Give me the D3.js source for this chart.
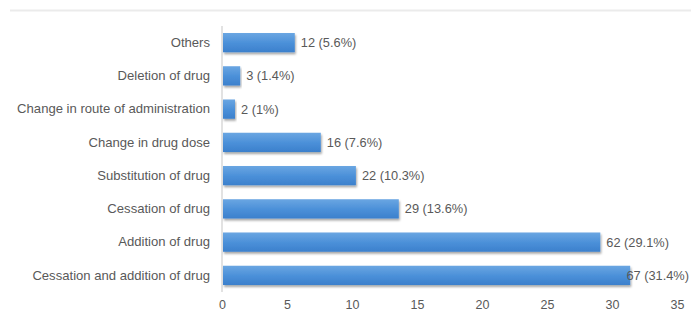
<!DOCTYPE html>
<html>
<head>
<meta charset="utf-8">
<script src="https://cdn.jsdelivr.net/npm/d3@7"></script>
<style>
  body { margin: 0; background: #fff; }
  text { font-family: "Liberation Sans", Arial, sans-serif; }
</style>
</head>
<body>
<svg id="chart" width="691" height="320"></svg>
<script>
// data, top to bottom
var categories = ["Others", "Deletion of drug", "Change in route of administration",
  "Change in drug dose", "Substitution of drug", "Cessation of drug",
  "Addition of drug", "Cessation and addition of drug"];
var counts = [12, 3, 2, 16, 22, 29, 62, 67];
var percents = [5.6, 1.4, 1, 7.6, 10.3, 13.6, 29.1, 31.4];
var xTicks = [0, 5, 10, 15, 20, 25, 30, 35];

var W = 691, H = 320;
var svg = d3.select("#chart");

var defs = svg.append("defs");
var grad = defs.append("linearGradient")
  .attr("id", "barGrad")
  .attr("x1", 0).attr("y1", 0).attr("x2", 0).attr("y2", 1);
grad.append("stop").attr("offset", "0%").attr("stop-color", "#6aa6e2");
grad.append("stop").attr("offset", "55%").attr("stop-color", "#4a8fd8");
grad.append("stop").attr("offset", "100%").attr("stop-color", "#3c80cc");

var shadow = defs.append("filter").attr("id", "shadow")
  .attr("x", "-5%").attr("y", "-20%").attr("width", "115%").attr("height", "160%");
shadow.append("feDropShadow")
  .attr("dx", 1).attr("dy", 2).attr("stdDeviation", 0.8)
  .attr("flood-color", "#000").attr("flood-opacity", 0.35);

// frame top line
svg.append("line")
  .attr("x1", 10).attr("x2", W).attr("y1", 10.5).attr("y2", 10.5)
  .attr("stroke", "#ebebeb").attr("stroke-width", 2);

// X scale
var x = d3.scaleLinear()
  .domain([0, 35])
  .range([222, 677]);

// Y scale
var y = d3.scaleBand()
  .domain(categories)
  .range([26, 292])
  .paddingInner(0.42)
  .paddingOuter(0.21);

// X axis (labels only)
svg.append("g")
  .attr("transform", "translate(0,292)")
  .call(d3.axisBottom(x).tickValues(xTicks).tickSize(0).tickPadding(8))
  .call(function (g) { g.select(".domain").remove(); })
  .selectAll("text")
  .attr("font-size", "12.5px")
  .attr("fill", "#595959");

// Y axis
var yAxis = svg.append("g")
  .attr("transform", "translate(222,0)")
  .call(d3.axisLeft(y).tickSize(0).tickPadding(12));
yAxis.select(".domain")
  .attr("stroke", "#d9d9d9")
  .attr("stroke-width", 1.5)
  .attr("d", "M0,26V292");
yAxis.selectAll("text")
  .attr("font-size", "13.1px")
  .attr("fill", "#595959");

var rows = categories.map(function (c, i) {
  return { cat: c, n: counts[i], pct: percents[i] };
});

// bars
svg.append("g")
  .selectAll("rect")
  .data(rows)
  .enter()
  .append("rect")
  .attr("x", x(0) + 1)
  .attr("y", function (d) { return y(d.cat); })
  .attr("width", function (d) { return x(d.pct) - x(0) - 1; })
  .attr("height", y.bandwidth())
  .attr("fill", "url(#barGrad)")
  .attr("filter", "url(#shadow)");

// value labels, kept inside the frame
svg.append("g")
  .selectAll("text")
  .data(rows)
  .enter()
  .append("text")
  .attr("y", function (d) { return y(d.cat) + y.bandwidth() / 2; })
  .attr("dy", "0.35em")
  .attr("font-size", "12.8px")
  .attr("fill", "#595959")
  .text(function (d) { return d.n + " (" + d.pct + "%)"; })
  .attr("x", function (d) {
    var len = this.getComputedTextLength();
    return Math.min(x(d.pct) + 6, W - 2 - len);
  });
</script>
</body>
</html>
